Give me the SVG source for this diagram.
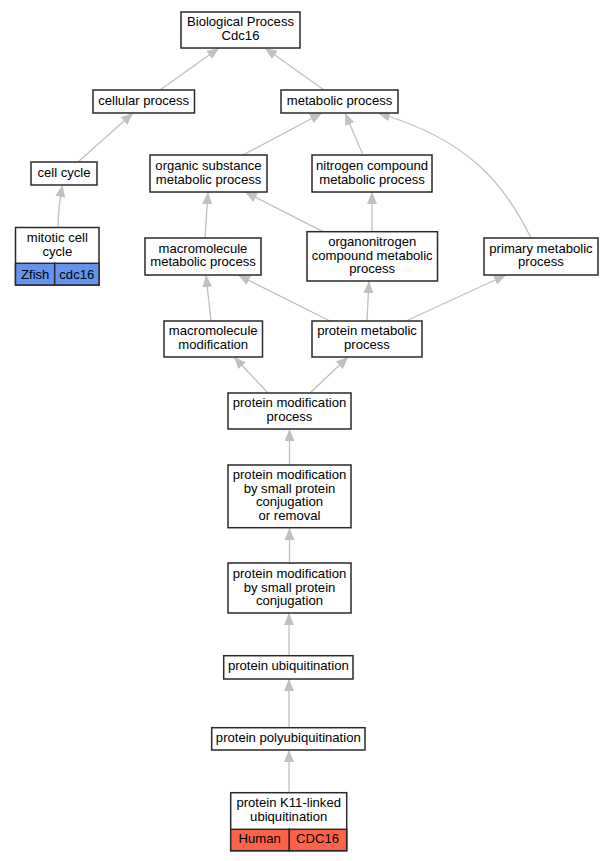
<svg xmlns="http://www.w3.org/2000/svg" width="612" height="861" viewBox="0 0 612 861">
<style>
.box{fill:#fff;stroke:#2a2a2a;stroke-width:1.5}
.zf{fill:#6495ed;stroke:#2a2a2a;stroke-width:1.5}
.hu{fill:#ff6347;stroke:#2a2a2a;stroke-width:1.5}
text{font-family:"Liberation Sans",Arial,sans-serif;font-size:13.1px;fill:#000;text-anchor:middle}
.e{fill:none;stroke:#c0c0c0;stroke-width:1.3;marker-end:url(#ah)}
</style>
<defs>
<marker id="ah" viewBox="0 0 12 10" refX="12" refY="5" markerWidth="12" markerHeight="10" markerUnits="userSpaceOnUse" orient="auto">
<path d="M0,0 L12,5 L0,10 z" fill="#c0c0c0"/>
</marker>
</defs>
<rect width="612" height="861" fill="#fff"/>
<g id="edges">
<path class="e" d="M160,90 L219,48"/>
<path class="e" d="M324,90 L265,48"/>
<path class="e" d="M78,162 L133,113"/>
<path class="e" d="M243,155 L322,113"/>
<path class="e" d="M363,155 L345,113"/>
<path class="e" d="M531,238 C505,185 470,140 378,113"/>
<path class="e" d="M58,227.5 C58,210 60,198 62.5,185"/>
<path class="e" d="M205,238 L208,192"/>
<path class="e" d="M323,231.7 L245,192"/>
<path class="e" d="M372,231.7 L372,192"/>
<path class="e" d="M211,321 L206,275"/>
<path class="e" d="M330,321 L238,275"/>
<path class="e" d="M367,321 L369,281"/>
<path class="e" d="M406,321 L506,275"/>
<path class="e" d="M268,393 L234,357"/>
<path class="e" d="M310,393 L348,357"/>
<path class="e" d="M289.5,465 L289.5,429"/>
<path class="e" d="M289.5,563 L289.5,528"/>
<path class="e" d="M289,655.7 L289,613"/>
<path class="e" d="M289,727.7 L289,679"/>
<path class="e" d="M289,792.7 L289,750"/>
</g>
<g id="n_bp"><rect class="box" x="181" y="12" width="119" height="36"/><text x="240.5" y="26">Biological Process</text><text x="240.5" y="39.5">Cdc16</text></g>
<g id="n_cellular"><rect class="box" x="93" y="90" width="101.5" height="23"/><text x="143.7" y="104.7">cellular process</text></g>
<g id="n_metabolic"><rect class="box" x="281" y="90" width="117" height="23"/><text x="339.5" y="104.7">metabolic process</text></g>
<g id="n_cellcycle"><rect class="box" x="31" y="162" width="66" height="23"/><text x="64" y="176.7">cell cycle</text></g>
<g id="n_organic"><rect class="box" x="150" y="155" width="117" height="37"/><text x="208.5" y="170">organic substance</text><text x="208.5" y="183.5">metabolic process</text></g>
<g id="n_nitrogen"><rect class="box" x="312" y="155" width="120" height="37"/><text x="372" y="170">nitrogen compound</text><text x="372" y="183.5">metabolic process</text></g>
<g id="n_mitotic"><rect class="box" x="15.5" y="227.5" width="83.5" height="57.5"/><rect class="zf" x="15.5" y="263.3" width="39.2" height="21.7"/><rect class="zf" x="54.7" y="263.3" width="44.3" height="21.7"/><text x="57.3" y="242.2">mitotic cell</text><text x="57.3" y="255.6">cycle</text><text x="35.2" y="278.5">Zfish</text><text x="76.8" y="278.5">cdc16</text></g>
<g id="n_macromet"><rect class="box" x="145" y="238" width="116" height="37"/><text x="203" y="252.8">macromolecule</text><text x="203" y="266.4">metabolic process</text></g>
<g id="n_organonitrogen"><rect class="box" x="307" y="231.7" width="130.5" height="49.3"/><text x="372.2" y="246.2">organonitrogen</text><text x="372.2" y="259.5">compound metabolic</text><text x="372.2" y="272.8">process</text></g>
<g id="n_primary"><rect class="box" x="484" y="238" width="114" height="37"/><text x="541" y="252.8">primary metabolic</text><text x="541" y="266.4">process</text></g>
<g id="n_macromod"><rect class="box" x="164" y="321" width="98.5" height="36"/><text x="213.2" y="335.3">macromolecule</text><text x="213.2" y="348.9">modification</text></g>
<g id="n_protmet"><rect class="box" x="312" y="321" width="110" height="36"/><text x="367" y="335.3">protein metabolic</text><text x="367" y="348.9">process</text></g>
<g id="n_pmp"><rect class="box" x="228" y="393" width="123" height="36"/><text x="289.5" y="407.2">protein modification</text><text x="289.5" y="420.8">process</text></g>
<g id="n_removal"><rect class="box" x="228" y="465" width="123" height="62.7"/><text x="289.5" y="479.2">protein modification</text><text x="289.5" y="492.7">by small protein</text><text x="289.5" y="506.2">conjugation</text><text x="289.5" y="519.7">or removal</text></g>
<g id="n_conj"><rect class="box" x="228" y="563" width="123" height="50"/><text x="289.5" y="578.2">protein modification</text><text x="289.5" y="591.5">by small protein</text><text x="289.5" y="605">conjugation</text></g>
<g id="n_ubiq"><rect class="box" x="223.7" y="655.7" width="129.3" height="23.3"/><text x="288.3" y="670.2">protein ubiquitination</text></g>
<g id="n_polyubiq"><rect class="box" x="211.7" y="727.7" width="153.3" height="22.3"/><text x="288.3" y="742.2">protein polyubiquitination</text></g>
<g id="n_k11"><rect class="box" x="230.7" y="792.7" width="116" height="58"/><rect class="hu" x="230.7" y="829.3" width="58.6" height="21.4"/><rect class="hu" x="289.3" y="829.3" width="57.4" height="21.4"/><text x="288.7" y="807.2">protein K11-linked</text><text x="288.7" y="821.2">ubiquitination</text><text x="259.7" y="843.2">Human</text><text x="317.5" y="843.2">CDC16</text></g>
</svg>
